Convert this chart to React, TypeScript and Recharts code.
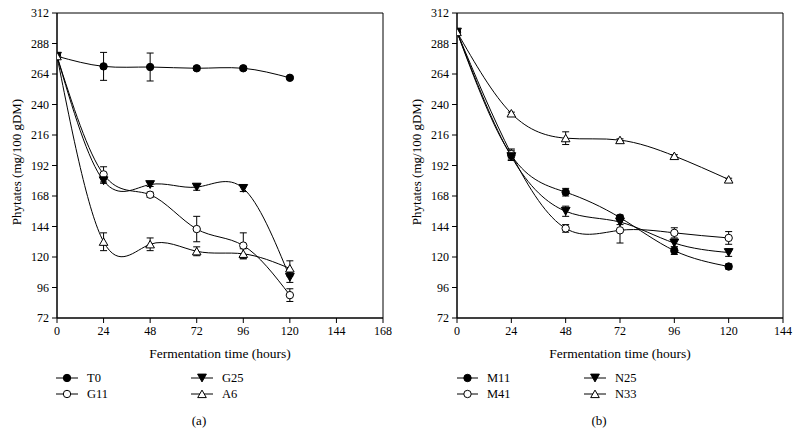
import React from 'react';
import { LineChart, Line, XAxis, YAxis, ErrorBar, ReferenceArea } from 'recharts';

const hours = [0, 24, 48, 72, 96, 120];
const yTicks = [72, 96, 120, 144, 168, 192, 216, 240, 264, 288, 312];
const xTicksA = [0, 24, 48, 72, 96, 120, 144, 168];
const xTicksB = [0, 24, 48, 72, 96, 120, 144];

// Panel (a)
const T0 = [278, 270, 269.5, 268.5, 268.5, 261];
const T0Err = [0, 11, 11, 1.5, 1.5, 1];
const G11 = [278, 185, 169, 142, 129, 90];
const G11Err = [0, 6, 2, 10, 10, 5];
const G25 = [278, 180, 177, 175, 174, 104];
const G25Err = [0, 2, 1.5, 2.5, 2.5, 4];
const A6 = [278, 132, 130, 124.5, 122.5, 111];
const A6Err = [0, 7, 5, 3.5, 4, 6];

// Panel (b)
const M11 = [297, 200, 171, 151, 125, 112.5];
const M11Err = [0, 4, 3, 2, 3, 2];
const M41 = [297, 201, 142.5, 141, 139, 135];
const M41Err = [0, 4, 3, 10, 4, 5];
const N25 = [297, 199, 156, 147.5, 131, 123.5];
const N25Err = [0, 3, 4, 2, 3, 3];
const N33 = [297, 233, 213.5, 212, 199.5, 181];
const N33Err = [0, 1, 5, 1, 1, 1];

type Shape = 'circleFilled' | 'circleOpen' | 'triDown' | 'triUp';

const seriesA = [
  { name: 'T0', values: T0, errs: T0Err, shape: 'circleFilled' as Shape },
  { name: 'G11', values: G11, errs: G11Err, shape: 'circleOpen' as Shape },
  { name: 'G25', values: G25, errs: G25Err, shape: 'triDown' as Shape },
  { name: 'A6', values: A6, errs: A6Err, shape: 'triUp' as Shape },
];
const seriesB = [
  { name: 'M11', values: M11, errs: M11Err, shape: 'circleFilled' as Shape },
  { name: 'M41', values: M41, errs: M41Err, shape: 'circleOpen' as Shape },
  { name: 'N25', values: N25, errs: N25Err, shape: 'triDown' as Shape },
  { name: 'N33', values: N33, errs: N33Err, shape: 'triUp' as Shape },
];

const FONT = 'Liberation Serif, serif';

function Marker({ shape, x, y }: { shape: Shape; x: number; y: number }) {
  if (x == null || y == null || isNaN(x) || isNaN(y)) return null;
  switch (shape) {
    case 'circleFilled':
      return <circle cx={x} cy={y} r={3.7} fill="#000" stroke="#000" strokeWidth={1} />;
    case 'circleOpen':
      return <circle cx={x} cy={y} r={3.7} fill="#fff" stroke="#000" strokeWidth={1} />;
    case 'triDown':
      return (
        <path
          d={`M${x - 4.4},${y - 3.9} L${x + 4.4},${y - 3.9} L${x},${y + 3.9} Z`}
          fill="#000"
          stroke="#000"
          strokeWidth={1}
        />
      );
    case 'triUp':
    default:
      return (
        <path
          d={`M${x - 4.3},${y + 3.6} L${x + 4.3},${y + 3.6} L${x},${y - 3.9} Z`}
          fill="#fff"
          stroke="#000"
          strokeWidth={1}
        />
      );
  }
}

const makeDot = (shape: Shape) => (props: any) => {
  const { cx, cy, index } = props;
  return (
    <g key={`d-${shape}-${index}`}>
      <Marker shape={shape} x={cx} y={cy} />
    </g>
  );
};

type Series = { name: string; values: number[]; errs: number[]; shape: Shape };

function buildRows(series: Series[]) {
  return hours.map((h, i) => {
    const row: Record<string, number> = { x: h };
    series.forEach((s) => {
      row[s.name] = s.values[i];
      row[s.name + 'Err'] = s.errs[i];
    });
    return row;
  });
}

function Panel({ series, xMax, xTicks }: { series: Series[]; xMax: number; xTicks: number[] }) {
  const data = buildRows(series);
  const tickStyle = { fill: '#000', fontSize: 12, fontFamily: FONT };
  return (
    <LineChart
      width={400}
      height={434}
      data={data}
      margin={{ top: 13, right: 17, bottom: 86, left: 0 }}
      style={{ fontFamily: FONT }}
    >
      <ReferenceArea x1={0} x2={xMax} y1={72} y2={312} fill="none" stroke="#000" strokeWidth={1} ifOverflow="visible" />
      <XAxis
        dataKey="x"
        type="number"
        domain={[0, xMax]}
        ticks={xTicks}
        height={30}
        tickSize={5}
        tickMargin={3}
        axisLine={{ stroke: '#000' }}
        tickLine={{ stroke: '#000' }}
        tick={tickStyle}
        allowDataOverflow
      />
      <YAxis
        type="number"
        domain={[72, 312]}
        ticks={yTicks}
        width={57}
        tickSize={5}
        tickMargin={3}
        axisLine={{ stroke: '#000' }}
        tickLine={{ stroke: '#000' }}
        tick={tickStyle}
        allowDataOverflow
      />
      {series.map((s) => (
        <Line
          key={s.name}
          dataKey={s.name}
          type="natural"
          stroke="#000"
          strokeWidth={1}
          dot={makeDot(s.shape)}
          activeDot={false}
          isAnimationActive={false}
        >
          <ErrorBar dataKey={s.name + 'Err'} width={3.5} stroke="#000" strokeWidth={1} direction="y" />
        </Line>
      ))}
    </LineChart>
  );
}

function LegendItem({ s, x1, x2, y }: { s: Series; x1: number; x2: number; y: number }) {
  const cx = (x1 + x2) / 2;
  return (
    <g>
      <line x1={x1} x2={x2} y1={y} y2={y} stroke="#000" strokeWidth={1} />
      <Marker shape={s.shape} x={cx} y={y} />
      <text x={x2 + 9} y={y} dy="0.35em" fontSize={12.5} fontFamily={FONT} fill="#000">
        {s.name}
      </text>
    </g>
  );
}

function Overlay() {
  const legendPos = (offset: number, c1: [number, number], c2: [number, number]) => [
    { x1: offset + c1[0], x2: offset + c1[1], y: 378 },
    { x1: offset + c1[0], x2: offset + c1[1], y: 394 },
    { x1: offset + c2[0], x2: offset + c2[1], y: 378 },
    { x1: offset + c2[0], x2: offset + c2[1], y: 394 },
  ];
  const posA = legendPos(0, [56, 78], [191, 213]);
  const posB = legendPos(400, [57, 78], [184, 206]);
  return (
    <svg width={800} height={434} style={{ position: 'absolute', left: 0, top: 0, pointerEvents: 'none' }}>
      {[0, 400].map((off) => (
        <g key={off}>
          <text
            x={off + 220}
            y={353}
            dy="0.35em"
            textAnchor="middle"
            fontSize={13.5}
            fontFamily={FONT}
            fill="#000"
          >
            Fermentation time (hours)
          </text>
          <text
            transform={`translate(${off + 16},162) rotate(-90)`}
            dy="0.35em"
            textAnchor="middle"
            fontSize={13}
            fontFamily={FONT}
            fill="#000"
          >
            Phytates (mg/100 gDM)
          </text>
        </g>
      ))}
      {seriesA.map((s, i) => (
        <LegendItem key={s.name} s={s} {...posA[i]} />
      ))}
      {seriesB.map((s, i) => (
        <LegendItem key={s.name} s={s} {...posB[i]} />
      ))}
      <text x={199} y={420} dy="0.35em" textAnchor="middle" fontSize={13} fontFamily={FONT} fill="#000">
        (a)
      </text>
      <text x={599} y={420} dy="0.35em" textAnchor="middle" fontSize={13} fontFamily={FONT} fill="#000">
        (b)
      </text>
    </svg>
  );
}

export default function App() {
  return (
    <div style={{ position: 'absolute', left: 0, top: 0, width: 800, height: 434, background: '#fff', fontFamily: FONT }}>
      <div style={{ position: 'absolute', left: 0, top: 0 }}>
        <Panel series={seriesA} xMax={168} xTicks={xTicksA} />
      </div>
      <div style={{ position: 'absolute', left: 400, top: 0 }}>
        <Panel series={seriesB} xMax={144} xTicks={xTicksB} />
      </div>
      <Overlay />
    </div>
  );
}
